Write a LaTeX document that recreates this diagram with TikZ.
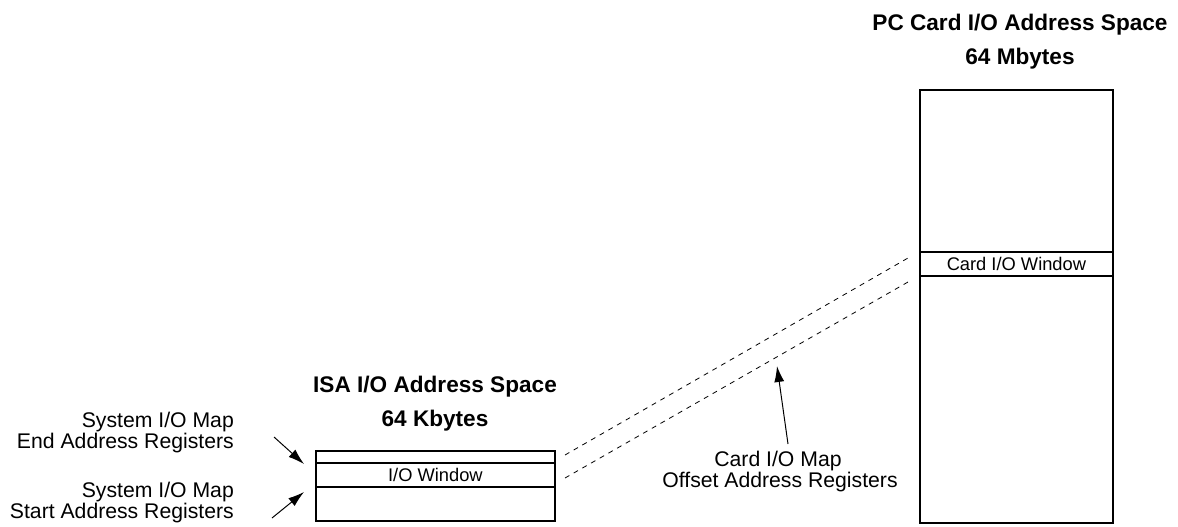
\documentclass[tikz,border=0pt]{standalone}
\usepackage{fontspec}
\setmainfont{Liberation Sans}
\usetikzlibrary{arrows.meta}
\begin{document}
\begin{tikzpicture}[x=1pt,y=-1pt,
  box/.style={draw,line width=1.8pt,inner sep=0pt,anchor=north west},
  lbl/.style={font=\fontsize{21.2}{20}\selectfont,inner sep=0pt,text height=15pt,text depth=4pt},
  ttl/.style={font=\fontsize{22.6}{26}\selectfont\bfseries,inner sep=0pt,anchor=base},
  win/.style={font=\fontsize{18.3}{20}\selectfont,inner sep=0pt},
  arr/.style={line width=1pt,-{Latex[length=16pt,width=10pt]}},
  dsh/.style={line width=0.8pt,dash pattern=on 5pt off 5pt}]
\useasboundingbox (0,0) rectangle (1178,527);
% ISA space
\node[box,minimum width=239pt,minimum height=12pt] (isatop) at (315,450) {};
\node[box,minimum width=239pt,minimum height=24pt] (isawin) at (315,462) {};
\node[box,minimum width=239pt,minimum height=34pt] (isabot) at (315,486) {};
\node[win] at (isawin.center) {I/O Window};
\node[ttl] (isattl1) at (435,392) {ISA I/O Address Space};
\node[ttl] (isattl2) at (435,426) {64 Kbytes};
% PC card space
\node[box,minimum width=193pt,minimum height=162pt] (pctop) at (919,89) {};
\node[box,minimum width=193pt,minimum height=24pt] (pcwin) at (919,251) {};
\node[box,minimum width=193pt,minimum height=247pt] (pcbot) at (919,275) {};
\node[win] at (pcwin.center) {Card I/O Window};
\node[ttl] (pcttl1) at (1020,31) {PC Card I/O Address Space};
\node[ttl] (pcttl2) at (1020,65) {64 Mbytes};
% dashed mapping lines
\coordinate (d1a) at (565,455);
\coordinate (d1b) at (908,258);
\coordinate (d2a) at (565,478);
\coordinate (d2b) at (908,282);
\draw[dsh] (d1a) -- (d1b);
\draw[dsh] (d2a) -- (d2b);
% left labels
\node[lbl,anchor=base east] (endl1) at (234,427) {System I/O Map};
\node[lbl,anchor=base east] (endl2) at (234,448) {End Address Registers};
\node[lbl,anchor=base east] (startl1) at (234,497) {System I/O Map};
\node[lbl,anchor=base east] (startl2) at (234,518) {Start Address Registers};
\coordinate (endfrom) at (274,437);
\coordinate (endtip) at (304,464);
\coordinate (startfrom) at (272,518);
\coordinate (starttip) at (304,492);
\draw[arr] (endfrom) -- (endtip);
\draw[arr] (startfrom) -- (starttip);
% card map label
\node[lbl,anchor=base] (cardl1) at (778,466) {Card I/O Map};
\node[lbl,anchor=base] (cardl2) at (780,487) {Offset Address Registers};
\coordinate (cardfrom) at (788,444);
\coordinate (cardtip) at (777,366);
\draw[arr] (cardfrom) -- (cardtip);
\end{tikzpicture}
\end{document}
